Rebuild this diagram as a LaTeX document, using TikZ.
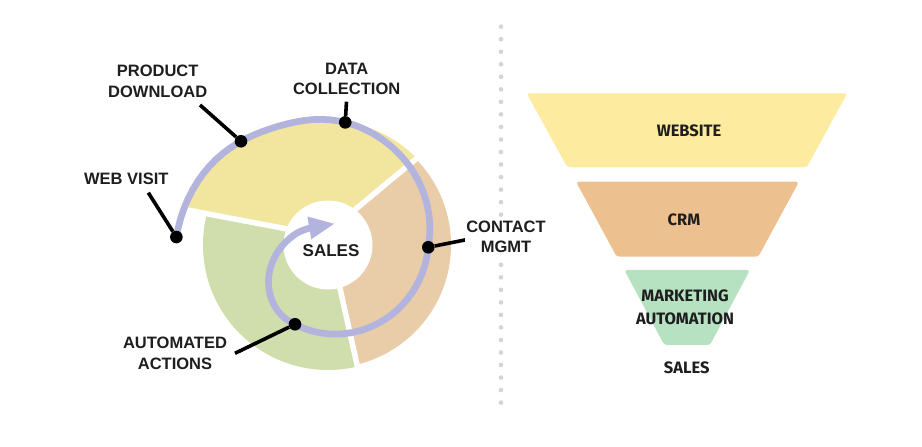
\documentclass[tikz,border=0pt]{standalone}
\usepackage{fontspec}
\setmainfont{Liberation Sans}
\newfontfamily\funnelfont{Fira Sans}
\usetikzlibrary{arrows.meta}

\definecolor{segyellow}{HTML}{F2E69E}
\definecolor{segorange}{HTML}{E9CCA8}
\definecolor{seggreen}{HTML}{D0DEAE}
\definecolor{spiralblue}{HTML}{B2B4DE}
\definecolor{fnlyellow}{HTML}{FDECA0}
\definecolor{fnlorange}{HTML}{EDC08F}
\definecolor{fnlgreen}{HTML}{B7E2C2}
\definecolor{dotgray}{HTML}{D4D4D4}
\definecolor{inkblack}{HTML}{1E1E1E}

% radius of the spiral (around the centre) as a function of the angle
\pgfmathdeclarefunction{spiralr}{1}{%
  \pgfmathsetmacro\spru{(#1+112.6)/66.4}%
  \pgfmathsetmacro\sprv{(#1-115)/22}%
  \pgfmathparse{(#1>=0)*(100.5+0.29*(#1)) + (#1<0)*(#1>=-112.6)*(100.5+0.13*(#1))
    + (#1<-112.6)*(22.5+63.36*exp(max(-9,0-(\spru)*(\spru))))
    - 4.5*exp(max(-9,0-(\sprv)*(\sprv)))}%
}

\begin{document}
\begin{tikzpicture}[x=1pt, y=1pt,
  steplabel/.style={font=\bfseries\fontsize{16.5}{20.5}\selectfont, text=inkblack, align=center, inner sep=1pt},
  stepdot/.style={circle, fill=black, minimum size=12.6pt, inner sep=0pt},
  leader/.style={line width=3.6pt, draw=black},
  gapline/.style={line width=5.5pt, draw=white},
  spiral/.style={line width=6.7pt, draw=spiralblue, -{Triangle[length=26pt, width=21pt]}},
  funnelbox/.style={rounded corners=3pt},
  funneltext/.style={font=\funnelfont\bfseries\fontsize{16.5}{23}\selectfont, text=inkblack, align=center}]

  \newcommand\CX{328}
  \newcommand\CY{202}
  \newcommand\RIN{44.5}

  \useasboundingbox (0,0) rectangle (922,447);
  \fill[white] (0,0) rectangle (922,447);

  % dotted divider
  \draw[dotgray, line width=4.6pt, line cap=round, dash pattern=on 0pt off 12.53pt]
  (501,420.3) -- (501,32);

  \coordinate (C) at (\CX, \CY);
  \begin{scope}[shift={(C)}]
    \coordinate (webpt) at (177:{spiralr(177)});
    \coordinate (loadpt) at (130:{spiralr(130)});
    \coordinate (datapt) at (82:{spiralr(82)});
    \coordinate (contactpt) at (-1.3:{spiralr(-1.3)});
    \coordinate (actionpt) at (-112.6:{spiralr(-112.6)});
    \coordinate (tippt) at (-288:22.5);
  \end{scope}

  % segments
  \begin{scope}
    \clip (300,215.6) -- (100,253.6) -- (100,27) -- (369.4,27) -- (335.9,177) -- cycle;
    \fill[seggreen] (C) circle (125);
  \end{scope}
  \begin{scope}
    \clip (335.9,177) -- (369.4,27) -- (480,27) -- (480,341.3) -- (345,229) -- cycle;
    \fill[segorange] (C) circle (123);
  \end{scope}
  \begin{scope}
    \clip (345,229) -- (480,341.3) -- (480,420) -- (100,420) -- (100,253.6) -- (300,215.6) -- cycle;
    \fill[segyellow] (C) circle (124);
    \begin{scope}[shift={(C)}]
      \fill[segyellow] (0,0) -- plot[domain=177:40, samples=40, variable=\t] (\t:{spiralr(\t)}) -- cycle;
    \end{scope}
  \end{scope}

  \draw[gapline] (300,215.6) -- (183,237.8);
  \draw[gapline] (345,229) -- (418,289.7);
  \draw[gapline] (335.9,177) -- (359.3,72);

  \fill[white] (C) circle (\RIN);

  \begin{scope}[shift={(C)}]
    \draw[spiral] plot[domain=177:-200, samples=100, variable=\t] (\t:{spiralr(\t)})
    .. controls +(33:10) and +(189.6:14) .. (tippt);
  \end{scope}

  \node[stepdot] (webdot) at (webpt) {};
  \node[stepdot] (loaddot) at (loadpt) {};
  \node[stepdot] (datadot) at (datapt) {};
  \node[stepdot] (contactdot) at (contactpt) {};
  \node[stepdot] (actiondot) at (actionpt) {};

  \coordinate (webend) at (148.3,254.3);
  \coordinate (loadend) at (200,342);
  \coordinate (dataend) at (346.5,345.3);
  \coordinate (contactend) at (468.3,207.7);
  \coordinate (actionend) at (235,93.7);

  \draw[leader] (webend) -- (webdot);
  \draw[leader] (loadend) -- (loaddot);
  \draw[leader] (dataend) -- (datadot);
  \draw[leader] (contactend) -- (contactdot);
  \draw[leader] (actionend) -- (actiondot);

  \node[steplabel] (webvisit) at (126.3,268.2) {WEB VISIT};
  \node[steplabel] (download) at (157.7,365.8) {PRODUCT\\DOWNLOAD};
  \node[steplabel] (collection) at (346.7,368.2) {DATA\\COLLECTION};
  \node[steplabel, fill=white] (contact) at (506,210) {CONTACT\\MGMT};
  \node[steplabel] (actions) at (175,93.7) {AUTOMATED\\ACTIONS};
  \node[steplabel, font=\bfseries\fontsize{17}{20}\selectfont] (sales) at (331,196) {SALES};

  % funnel
  \fill[fnlyellow, funnelbox] (526.7,353.7) -- (847.3,353.7) -- (806.7,279.7) -- (567.3,279.7) -- cycle;
  \fill[fnlorange, funnelbox] (576,265.3) -- (799,265.3) -- (758.3,190.3) -- (616.7,190.3) -- cycle;
  \fill[fnlgreen, funnelbox] (624.3,177) -- (750,177) -- (710,102) -- (664.3,102) -- cycle;

  \node[funneltext] (website) at (689,316.3) {WEBSITE};
  \node[funneltext] (crm) at (684,227) {CRM};
  \node[funneltext] (automation) at (685,139.3) {MARKETING\\AUTOMATION};
  \node[funneltext] (funnelsales) at (686.7,79.7) {SALES};

\end{tikzpicture}
\end{document}
